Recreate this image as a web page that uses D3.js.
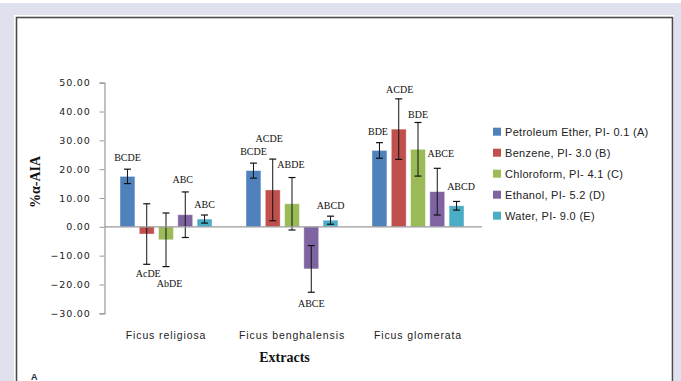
<!DOCTYPE html>
<html>
<head>
<meta charset="utf-8">
<script src="https://cdn.jsdelivr.net/npm/d3@7/dist/d3.min.js"></script>
<style>
  html, body { margin: 0; padding: 0; background: #dfe1ef; }
  svg { display: block; }
</style>
</head>
<body>
<svg id="chart" width="681" height="381"></svg>
<script>
// Extracts tested and solvent fractions
const categories = ["Ficus religiosa", "Ficus benghalensis", "Ficus glomerata"];
const seriesNames = [
  "Petroleum Ether, PI- 0.1 (A)",
  "Benzene, PI- 3.0 (B)",
  "Chloroform, PI- 4.1 (C)",
  "Ethanol, PI- 5.2 (D)",
  "Water, PI- 9.0 (E)"
];
// %α-AIA per solvent, one entry per extract
const petroleumEther = [17.5, 19.5, 26.5];
const benzene        = [-2.5, 12.8, 33.9];
const chloroform     = [-4.5, 8.0, 26.9];
const ethanol        = [4.2, -14.6, 12.2];
const water          = [2.7, 2.3, 7.3];
// Standard deviations
const petroleumEtherErr = [2.5, 2.6, 2.7];
const benzeneErr        = [10.5, 10.7, 10.5];
const chloroformErr     = [9.3, 9.1, 9.3];
const ethanolErr        = [7.9, 8.1, 8.1];
const waterErr          = [1.4, 1.4, 1.5];
// Significance letters
const petroleumEtherSig = ["BCDE", "BCDE", "BDE"];
const benzeneSig        = ["AcDE", "ACDE", "ACDE"];
const chloroformSig     = ["AbDE", "ABDE", "BDE"];
const ethanolSig        = ["ABC", "ABCE", "ABCE"];
const waterSig          = ["ABC", "ABCD", "ABCD"];
const yTicks = [50, 40, 30, 20, 10, 0, -10, -20, -30];

const values = [petroleumEther, benzene, chloroform, ethanol, water];
const errors = [petroleumEtherErr, benzeneErr, chloroformErr, ethanolErr, waterErr];
const sigs   = [petroleumEtherSig, benzeneSig, chloroformSig, ethanolSig, waterSig];
const colors = ["#4f81bd", "#c0504d", "#9bbb59", "#8064a2", "#4bacc6"];

// Hand nudges for the letter labels so they avoid each other [dx, dy], per extract then series
const labelNudge = [
  [[0, 0], [1.5, 0], [3.5, 7], [-2.5, -1], [0, 1]],
  [[0, 0], [-3.5, -9], [-1, -1.5], [0, 2], [0, 1]],
  [[-1.5, 0], [1, 2.5], [0, 4], [3.5, -3.5], [4.5, -3.5]]
];

const svg = d3.select("#chart");

// Frame
svg.append("rect").attr("x", 0).attr("y", 0).attr("width", 681).attr("height", 3).attr("fill", "#ffffff");
svg.append("rect").attr("x", 14).attr("y", 15).attr("width", 660).attr("height", 380).attr("fill", "#ffffff");
svg.append("rect").attr("x", 16.5).attr("y", 17.5).attr("width", 656).attr("height", 380)
  .attr("fill", "none").attr("stroke", "#4a4a4a").attr("stroke-width", 1.6);

const y = d3.scaleLinear().domain([-30, 50]).range([313.3, 82.7]);
const x0 = d3.scaleBand().domain(categories).range([103, 481]).paddingInner(0.27).paddingOuter(0.135);
const x1 = d3.scaleBand().domain(d3.range(seriesNames.length)).range([0, x0.bandwidth()]).paddingInner(0.227);

// Y axis
const yAxis = d3.axisLeft(y).tickValues(yTicks).tickFormat(d3.format(".2f")).tickSize(5).tickPadding(9);
const gy = svg.append("g").attr("transform", "translate(104.5,0)").call(yAxis);
gy.select(".domain").attr("stroke", "#9a9a9a").attr("stroke-width", 1.2);
gy.selectAll(".tick line").attr("stroke", "#9a9a9a");
gy.selectAll(".tick text")
  .attr("fill", "#1a1a1a")
  .style("font-family", "'DejaVu Sans', Verdana, sans-serif")
  .style("font-size", "9.5px")
  .style("letter-spacing", "0.8px");

// Bars
const groups = svg.append("g").selectAll("g")
  .data(categories)
  .join("g")
  .attr("transform", d => `translate(${x0(d)},0)`);

groups.each(function (cat, ci) {
  const g = d3.select(this);
  seriesNames.forEach((name, si) => {
    const v = values[si][ci];
    g.append("rect")
      .attr("x", x1(si))
      .attr("y", y(Math.max(0, v)))
      .attr("width", x1.bandwidth())
      .attr("height", Math.abs(y(v) - y(0)))
      .attr("fill", colors[si])
      .attr("stroke", "#ffffff")
      .attr("stroke-opacity", 0.5)
      .attr("stroke-width", 0.8);
  });
});

// Zero line across the plot
svg.append("line")
  .attr("x1", 104.5).attr("x2", 482)
  .attr("y1", y(0)).attr("y2", y(0))
  .attr("stroke", "#9a9a9a").attr("stroke-width", 1.2);

// Error bars and letters
groups.each(function (cat, ci) {
  const g = d3.select(this);
  seriesNames.forEach((name, si) => {
    const v = values[si][ci];
    const e = errors[si][ci];
    const cx = x1(si) + x1.bandwidth() / 2;
    const hi = y(v + e), lo = y(v - e);
    g.append("line").attr("x1", cx).attr("x2", cx).attr("y1", hi).attr("y2", lo)
      .attr("stroke", "#111").attr("stroke-width", 1);
    [hi, lo].forEach(py => {
      g.append("line").attr("x1", cx - 3.5).attr("x2", cx + 3.5).attr("y1", py).attr("y2", py)
        .attr("stroke", "#111").attr("stroke-width", 1.2);
    });
    const nudge = labelNudge[ci][si];
    const ty = v >= 0 ? hi - 8 : lo + 13;
    g.append("text")
      .attr("x", cx + nudge[0])
      .attr("y", ty + nudge[1])
      .attr("text-anchor", "middle")
      .attr("fill", "#111")
      .style("font-family", "'Liberation Serif', 'Times New Roman', serif")
      .style("font-size", "10px")
      .text(sigs[si][ci]);
  });
});

// Category labels
svg.append("g").selectAll("text")
  .data(categories)
  .join("text")
  .attr("x", d => x0(d) + x0.bandwidth() / 2)
  .attr("y", 339)
  .attr("text-anchor", "middle")
  .attr("fill", "#222")
  .style("font-family", "'Liberation Sans', Arial, sans-serif")
  .style("font-size", "10.5px")
  .style("letter-spacing", "0.9px")
  .text(d => d);

// Axis titles
svg.append("text")
  .attr("x", 284.5).attr("y", 361.5)
  .attr("text-anchor", "middle")
  .attr("fill", "#111")
  .style("font-family", "'Liberation Serif', 'Times New Roman', serif")
  .style("font-weight", "bold")
  .style("font-size", "14px")
  .text("Extracts");

svg.append("text")
  .attr("transform", "translate(40,182) rotate(-90)")
  .attr("text-anchor", "middle")
  .attr("fill", "#111")
  .style("font-family", "'Liberation Serif', 'Times New Roman', serif")
  .style("font-weight", "bold")
  .style("font-size", "14px")
  .text("%α-AIA");

// Legend
const legend = svg.append("g").selectAll("g")
  .data(seriesNames)
  .join("g")
  .attr("transform", (d, i) => `translate(493,${131.7 + i * 21})`);
legend.append("rect")
  .attr("x", 0).attr("y", -4).attr("width", 8).attr("height", 8)
  .attr("fill", (d, i) => colors[i]);
legend.append("text")
  .attr("x", 12).attr("y", 0)
  .attr("dy", "0.36em")
  .attr("fill", "#222")
  .style("font-family", "'Liberation Sans', Arial, sans-serif")
  .style("font-size", "11px")
  .style("letter-spacing", "0.3px")
  .text(d => d);

// Panel letter
svg.append("text")
  .attr("x", 31).attr("y", 380)
  .attr("fill", "#1a2a4a")
  .style("font-family", "'Liberation Sans', Arial, sans-serif")
  .style("font-weight", "bold")
  .style("font-size", "9px")
  .text("A");
</script>
</body>
</html>
